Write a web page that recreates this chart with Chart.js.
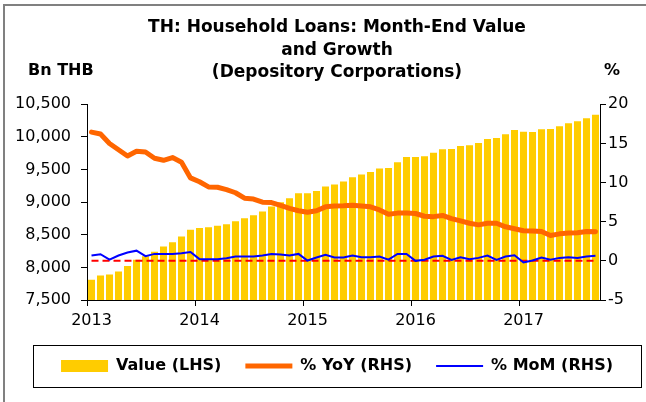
<!DOCTYPE html>
<html>
<head>
<meta charset="utf-8">
<script src="https://cdn.jsdelivr.net/npm/chart.js@4.4.1/dist/chart.umd.min.js"></script>
<style>
  body { margin: 0; background: #fff; overflow: hidden; }
  #frame { position: absolute; left: 3px; top: 4px; width: 700px; height: 500px;
           border-left: 2px solid #808080; border-top: 2px solid #808080; }
  #myChart { position: absolute; left: 0; top: 0; }
</style>
</head>
<body>
<div id="frame"></div>
<canvas id="myChart" width="646" height="402"></canvas>
<script>
var months = [
  '2013-01','2013-02','2013-03','2013-04','2013-05','2013-06','2013-07','2013-08','2013-09','2013-10','2013-11','2013-12',
  '2014-01','2014-02','2014-03','2014-04','2014-05','2014-06','2014-07','2014-08','2014-09','2014-10','2014-11','2014-12',
  '2015-01','2015-02','2015-03','2015-04','2015-05','2015-06','2015-07','2015-08','2015-09','2015-10','2015-11','2015-12',
  '2016-01','2016-02','2016-03','2016-04','2016-05','2016-06','2016-07','2016-08','2016-09','2016-10','2016-11','2016-12',
  '2017-01','2017-02','2017-03','2017-04','2017-05','2017-06','2017-07','2017-08','2017-09'
];

// Bn THB, left axis
var value = [
  7811, 7876, 7892, 7938, 8020, 8117, 8170, 8239, 8320, 8387, 8473, 8576,
  8602, 8617, 8637, 8663, 8709, 8755, 8800, 8856, 8932, 9000, 9061, 9137,
  9137, 9172, 9238, 9269, 9315, 9382, 9422, 9463, 9514, 9524, 9611, 9693,
  9693, 9703, 9758, 9810, 9815, 9861, 9871, 9907, 9968, 9983, 10040, 10106,
  10080, 10075, 10116, 10121, 10162, 10208, 10239, 10285, 10340
];

// %, right axis
var yoy = [
  16.45, 16.2, 15.0, 14.2, 13.4, 14.0, 13.9, 13.1, 12.85, 13.2, 12.6, 10.6,
  10.1, 9.45, 9.4, 9.1, 8.7, 8.0, 7.9, 7.5, 7.45, 7.1, 6.7, 6.4,
  6.2, 6.4, 6.9, 7.0, 7.03, 7.1, 7.0, 6.9, 6.5, 5.95, 6.1, 6.1,
  6.05, 5.7, 5.65, 5.8, 5.4, 5.1, 4.8, 4.6, 4.8, 4.8, 4.35, 4.1,
  3.85, 3.8, 3.75, 3.25, 3.45, 3.55, 3.6, 3.75, 3.73
];

var mom = [
  0.68, 0.85, 0.15, 0.68, 1.06, 1.3, 0.6, 0.89, 0.89, 0.89, 0.98, 1.14,
  0.22, 0.22, 0.22, 0.34, 0.55, 0.55, 0.55, 0.68, 0.89, 0.8, 0.68, 0.89,
  0.04, 0.42, 0.76, 0.42, 0.42, 0.68, 0.47, 0.47, 0.55, 0.15, 0.89, 0.89,
  0.0, 0.15, 0.55, 0.64, 0.13, 0.47, 0.22, 0.38, 0.68, 0.13, 0.55, 0.72,
  -0.21, 0.04, 0.42, 0.13, 0.38, 0.47, 0.38, 0.55, 0.64
];

var zeroLine = months.map(function () { return 0; });

Chart.defaults.font.family = "'DejaVu Sans', sans-serif";
Chart.defaults.font.size = 16;
Chart.defaults.color = '#000';

// unit labels above the axes + frame round the legend
var extras = {
  id: 'extras',
  afterDraw: function (chart) {
    var c = chart.ctx;
    var area = chart.chartArea;
    c.save();
    c.fillStyle = '#000';
    c.font = "bold 16px 'DejaVu Sans'";
    c.textBaseline = 'middle';
    c.textAlign = 'left';
    c.fillText('Bn THB', 28, 71);
    c.textAlign = 'center';
    c.fillText('%', area.right + 12, 71);
    var lg = chart.legend;
    c.strokeStyle = '#000';
    c.lineWidth = 1;
    c.strokeRect(33.5, lg.top + 11.5, 608, 42);
    c.restore();
  }
};

var ctx = document.getElementById('myChart').getContext('2d');
var myChart = new Chart(ctx, {
  data: {
    labels: months,
    datasets: [
      {
        type: 'line',
        label: '% MoM (RHS)',
        data: mom,
        yAxisID: 'y1',
        borderColor: '#0000ff',
        backgroundColor: '#0000ff',
        borderWidth: 2,
        pointRadius: 0,
        pointStyle: 'line',
        tension: 0,
        order: 0
      },
      {
        type: 'line',
        label: 'zero',
        data: zeroLine,
        yAxisID: 'y1',
        borderColor: '#ff0000',
        borderWidth: 2,
        borderDash: [7, 4],
        pointRadius: 0,
        order: 1
      },
      {
        type: 'line',
        label: '% YoY (RHS)',
        data: yoy,
        yAxisID: 'y1',
        borderColor: '#ff6600',
        backgroundColor: '#ff6600',
        borderWidth: 5,
        borderJoinStyle: 'round',
        borderCapStyle: 'round',
        pointRadius: 0,
        pointStyle: 'line',
        tension: 0,
        order: 2
      },
      {
        type: 'bar',
        label: 'Value (LHS)',
        data: value,
        yAxisID: 'y',
        backgroundColor: '#ffcc00',
        borderWidth: 0,
        pointStyle: 'rect',
        categoryPercentage: 1,
        barPercentage: 0.78,
        order: 3
      }
    ]
  },
  options: {
    responsive: false,
    animation: false,
    layout: { padding: { left: 12, right: -16, top: 14, bottom: 18 } },
    plugins: {
      tooltip: { enabled: false },
      title: {
        display: true,
        text: ['TH: Household Loans: Month-End Value', 'and Growth', '(Depository Corporations)'],
        font: { size: 17, weight: 'bold', lineHeight: 1.3 },
        color: '#000',
        padding: { top: 3, bottom: 21 }
      },
      legend: {
        position: 'bottom',
        labels: {
          usePointStyle: true,
          pointStyleWidth: 47,
          boxHeight: 12,
          padding: 24,
          font: { size: 16, weight: 'bold' },
          color: '#000',
          filter: function (item) { return item.text !== 'zero'; },
          sort: function (a, b) { return b.datasetIndex - a.datasetIndex; }
        }
      }
    },
    scales: {
      x: {
        offset: true,
        afterFit: function (s) { s.height = 34; },
        grid: {
          offset: true,
          drawOnChartArea: false,
          tickLength: 6,
          color: function (c) { return c.index % 12 === 0 ? '#000' : 'rgba(0,0,0,0)'; }
        },
        border: { display: true, color: '#000', width: 1 },
        ticks: {
          autoSkip: false,
          maxRotation: 0,
          padding: 5,
          callback: function (v, i) {
            var m = months[i];
            return m.slice(5) === '01' ? m.slice(0, 4) : '';
          }
        }
      },
      y: {
        position: 'left',
        min: 7500,
        max: 10500,
        afterFit: function (s) { s.width = 75; },
        grid: { drawOnChartArea: false, tickLength: 6, color: '#000' },
        border: { display: true, color: '#000', width: 1 },
        ticks: {
          stepSize: 500,
          padding: 10,
          callback: function (v) { return v.toLocaleString('en-US'); }
        }
      },
      y1: {
        position: 'right',
        min: -5,
        max: 20,
        afterFit: function (s) { s.width = 62; },
        grid: { drawOnChartArea: false, tickLength: 6, color: '#000' },
        border: { display: true, color: '#000', width: 1 },
        ticks: { stepSize: 5, padding: 2 }
      }
    }
  },
  plugins: [extras]
});
</script>
</body>
</html>
